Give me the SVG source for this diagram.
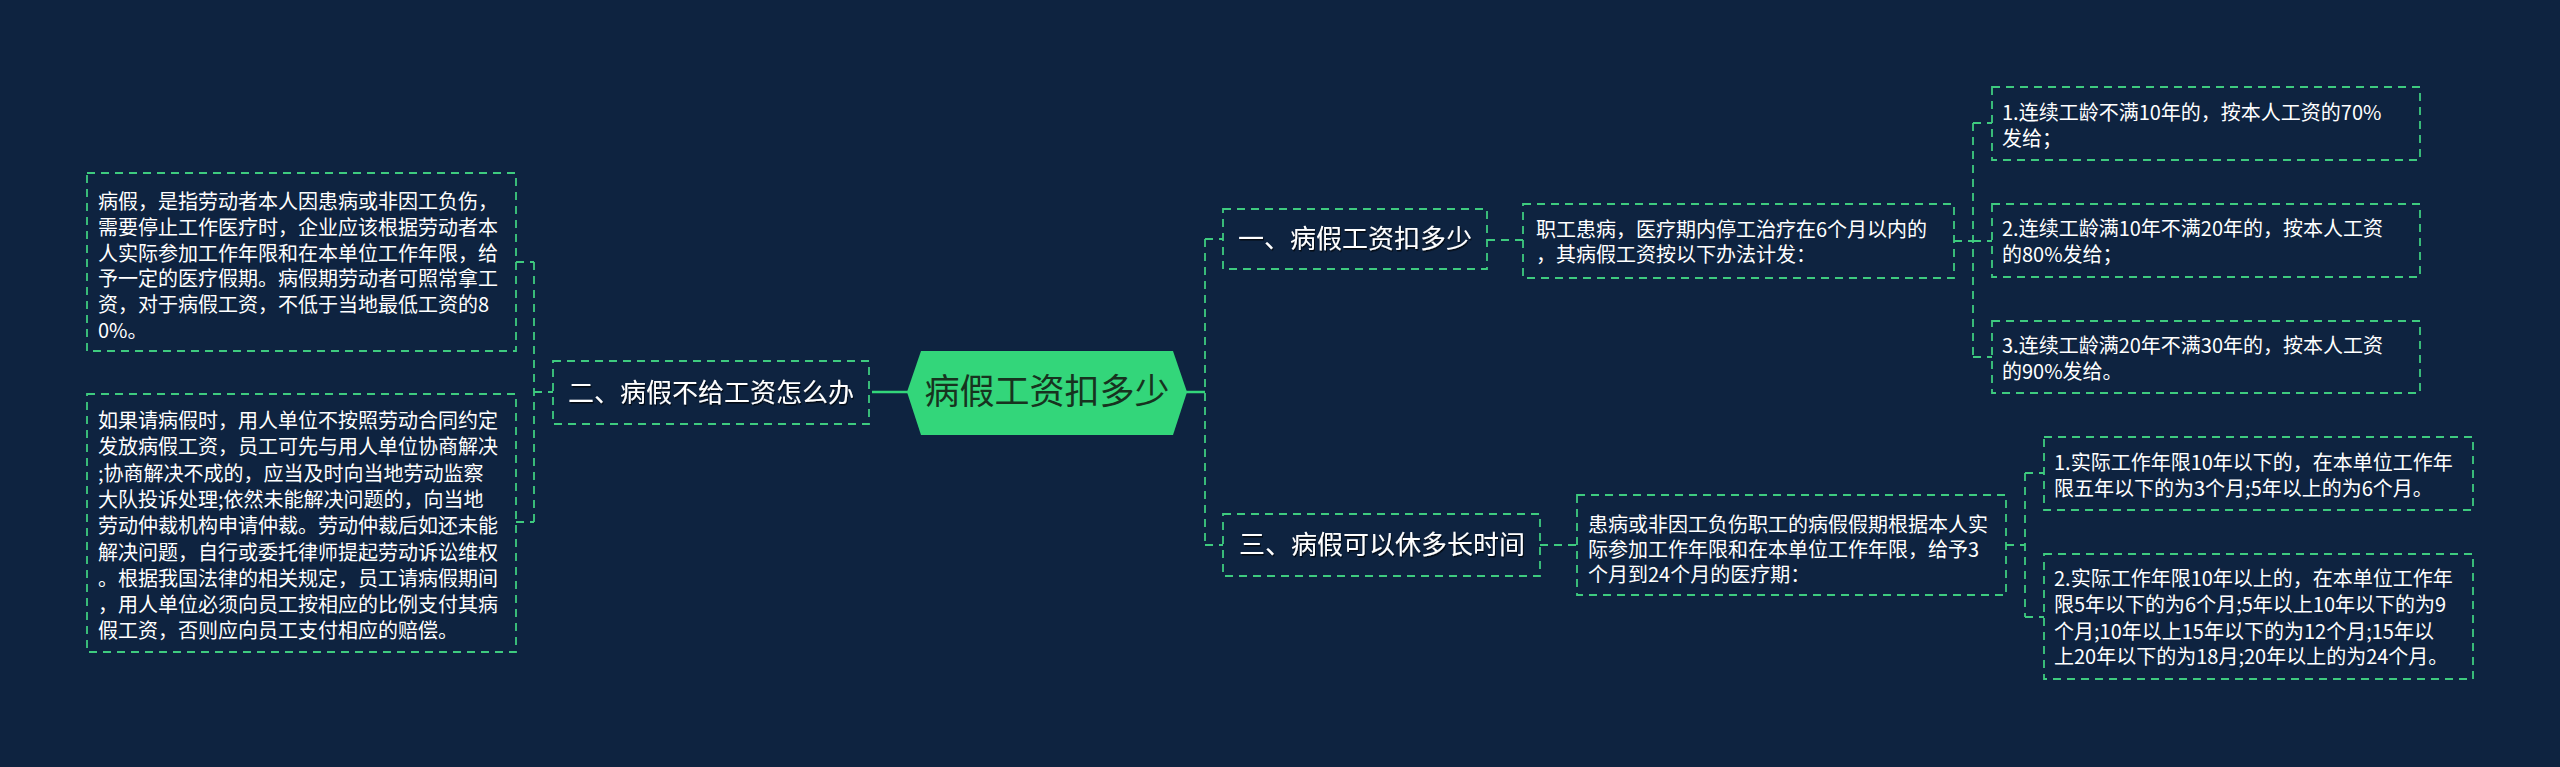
<svg xmlns="http://www.w3.org/2000/svg" width="2560" height="767" viewBox="0 0 2560 767">
<defs>
<style>
.box{fill:#0e2340;stroke:#3ecb7f;stroke-width:1.8;stroke-dasharray:8 6}
.dl{fill:none;stroke:#3ecb7f;stroke-width:1.8;stroke-dasharray:8 6}
.sl{fill:none;stroke:#33d67a;stroke-width:2.5}
.t{font-family:"Noto Sans CJK SC","Noto Sans",sans-serif;font-size:20px;fill:#ffffff}
.h{font-family:"Noto Sans CJK SC","Noto Sans",sans-serif;font-size:26px;fill:#ffffff;text-anchor:middle;filter:url(#sh)}
.c{font-family:"Noto Sans CJK SC","Noto Sans",sans-serif;font-size:35px;fill:#17331f;text-anchor:middle}
</style>
<filter id="sh" x="-10%" y="-30%" width="120%" height="160%">
<feDropShadow dx="1" dy="1.5" stdDeviation="0.6" flood-color="#000000" flood-opacity="0.7"/>
</filter>
</defs>
<rect x="0" y="0" width="2560" height="767" fill="#0e2340"/>

<g id="connectors">
<line class="sl" x1="872" y1="392" x2="908" y2="392"/>
<line class="sl" x1="1186" y1="392" x2="1205" y2="392"/>
<path class="dl" d="M1205 239 V545 M1205 239 H1223 M1205 545 H1223"/>
<path class="dl" d="M534 262 V522 M516 262 H534 M516 522 H534 M534 392 H553"/>
<path class="dl" d="M1487 240 H1523"/>
<path class="dl" d="M1954 241 H1973 M1973 123 V357 M1973 123 H1992 M1973 241 H1992 M1973 357 H1992"/>
<path class="dl" d="M1540 545 H1577"/>
<path class="dl" d="M2006 545 H2025 M2025 473 V617 M2025 473 H2044 M2025 617 H2044"/>
</g>

<g id="root">
<polygon points="907,392 921,351 1173,351 1187,392 1173,435 921,435" fill="#33d67a"/>
<text class="c" x="1047" y="404">病假工资扣多少</text>
</g>

<g id="n2">
<rect class="box" x="553" y="361" width="316" height="63"/>
<text class="h" x="711" y="402">二、病假不给工资怎么办</text>
</g>

<g id="n2a">
<rect class="box" x="87" y="173" width="429" height="178"/>
<text class="t" x="98" y="209">病假，是指劳动者本人因患病或非因工负伤，</text>
<text class="t" x="98" y="235">需要停止工作医疗时，企业应该根据劳动者本</text>
<text class="t" x="98" y="261">人实际参加工作年限和在本单位工作年限，给</text>
<text class="t" x="98" y="286">予一定的医疗假期。病假期劳动者可照常拿工</text>
<text class="t" x="98" y="312">资，对于病假工资，不低于当地最低工资的8</text>
<text class="t" x="98" y="338">0%。</text>
</g>

<g id="n2b">
<rect class="box" x="87" y="394" width="429" height="258"/>
<text class="t" x="98" y="428">如果请病假时，用人单位不按照劳动合同约定</text>
<text class="t" x="98" y="454">发放病假工资，员工可先与用人单位协商解决</text>
<text class="t" x="98" y="481">;协商解决不成的，应当及时向当地劳动监察</text>
<text class="t" x="98" y="507">大队投诉处理;依然未能解决问题的，向当地</text>
<text class="t" x="98" y="533">劳动仲裁机构申请仲裁。劳动仲裁后如还未能</text>
<text class="t" x="98" y="560">解决问题，自行或委托律师提起劳动诉讼维权</text>
<text class="t" x="98" y="586">。根据我国法律的相关规定，员工请病假期间</text>
<text class="t" x="98" y="612">，用人单位必须向员工按相应的比例支付其病</text>
<text class="t" x="98" y="638">假工资，否则应向员工支付相应的赔偿。</text>
</g>

<g id="n1">
<rect class="box" x="1223" y="209" width="264" height="60"/>
<text class="h" x="1355" y="248">一、病假工资扣多少</text>
</g>

<g id="n1a">
<rect class="box" x="1523" y="204" width="431" height="74"/>
<text class="t" x="1536" y="237">职工患病，医疗期内停工治疗在6个月以内的</text>
<text class="t" x="1536" y="262">，其病假工资按以下办法计发：</text>
</g>

<g id="n1a1">
<rect class="box" x="1992" y="87" width="428" height="73"/>
<text class="t" x="2002" y="120">1.连续工龄不满10年的，按本人工资的70%</text>
<text class="t" x="2002" y="146">发给；</text>
</g>

<g id="n1a2">
<rect class="box" x="1992" y="204" width="428" height="73"/>
<text class="t" x="2002" y="236">2.连续工龄满10年不满20年的，按本人工资</text>
<text class="t" x="2002" y="262">的80%发给；</text>
</g>

<g id="n1a3">
<rect class="box" x="1992" y="321" width="428" height="72"/>
<text class="t" x="2002" y="353">3.连续工龄满20年不满30年的，按本人工资</text>
<text class="t" x="2002" y="379">的90%发给。</text>
</g>

<g id="n3">
<rect class="box" x="1223" y="514" width="317" height="62"/>
<text class="h" x="1382" y="554">三、病假可以休多长时间</text>
</g>

<g id="n3a">
<rect class="box" x="1577" y="495" width="429" height="100"/>
<text class="t" x="1588" y="532">患病或非因工负伤职工的病假假期根据本人实</text>
<text class="t" x="1588" y="557">际参加工作年限和在本单位工作年限，给予3</text>
<text class="t" x="1588" y="582">个月到24个月的医疗期：</text>
</g>

<g id="n3a1">
<rect class="box" x="2044" y="437" width="429" height="73"/>
<text class="t" x="2054" y="470">1.实际工作年限10年以下的，在本单位工作年</text>
<text class="t" x="2054" y="496">限五年以下的为3个月;5年以上的为6个月。</text>
</g>

<g id="n3a2">
<rect class="box" x="2044" y="554" width="429" height="125"/>
<text class="t" x="2054" y="586">2.实际工作年限10年以上的，在本单位工作年</text>
<text class="t" x="2054" y="612">限5年以下的为6个月;5年以上10年以下的为9</text>
<text class="t" x="2054" y="639">个月;10年以上15年以下的为12个月;15年以</text>
<text class="t" x="2054" y="664">上20年以下的为18月;20年以上的为24个月。</text>
</g>
</svg>
